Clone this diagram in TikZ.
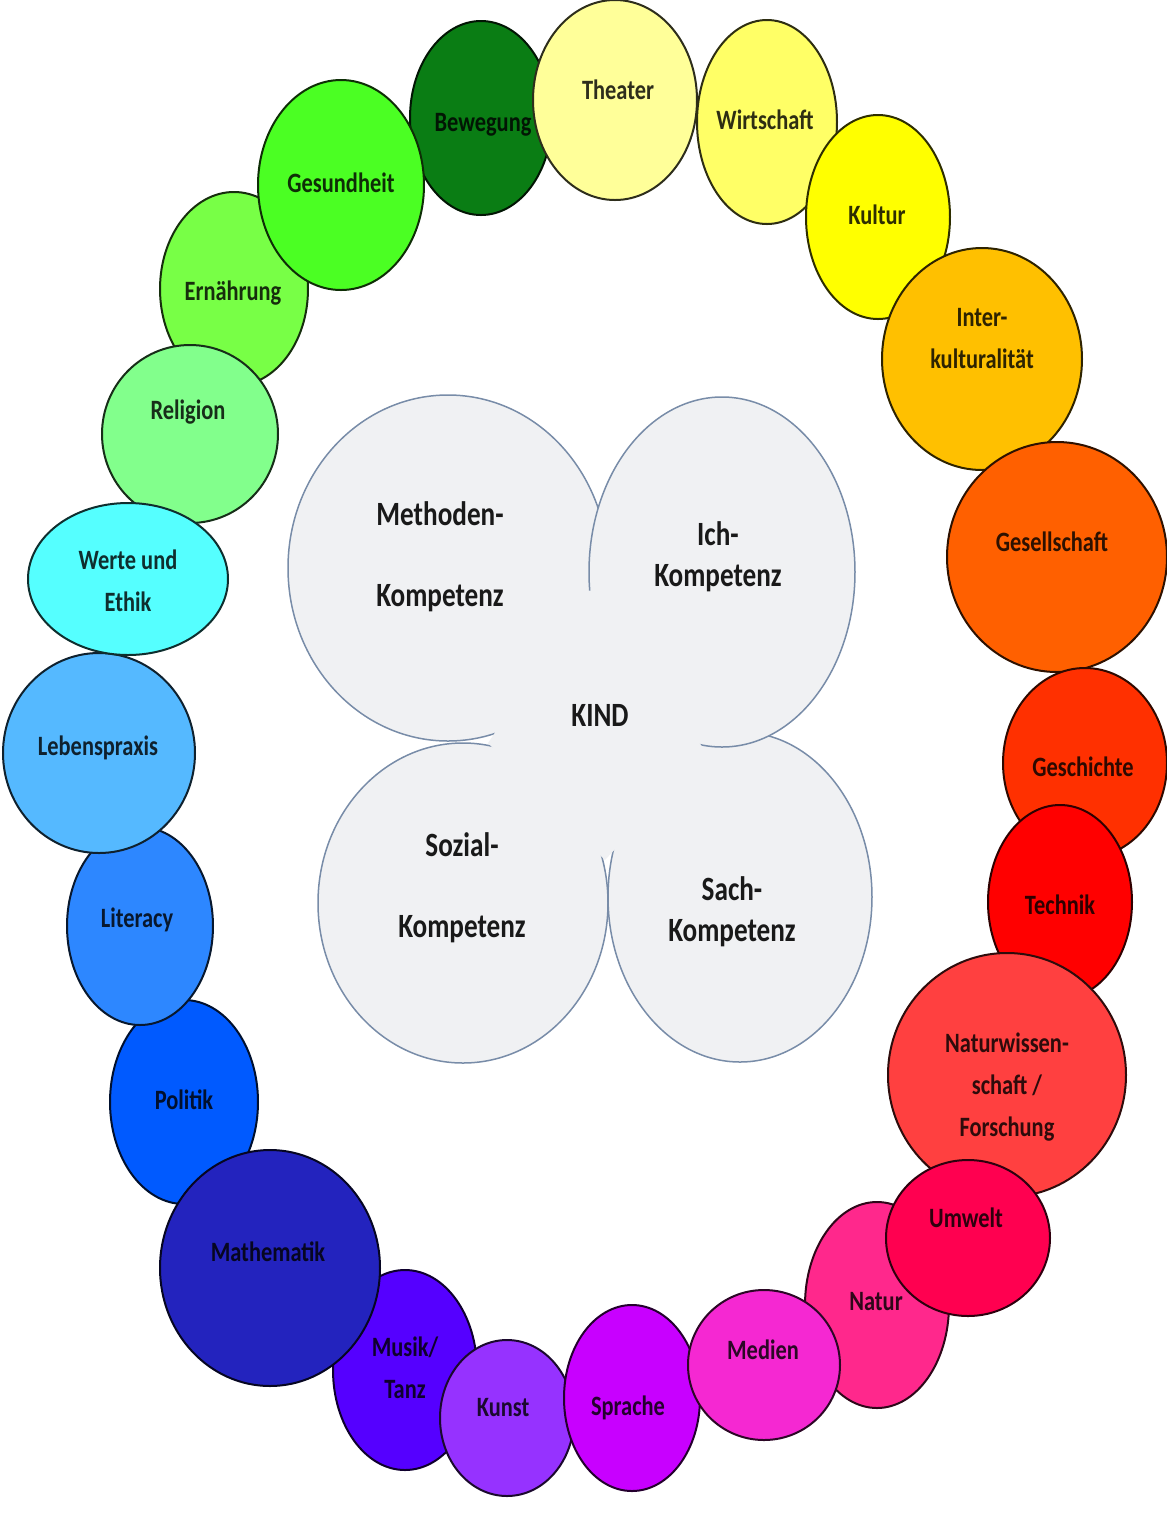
\documentclass[tikz,border=0pt]{standalone}
\usepackage{fontspec}
\setmainfont{Carlito}
\newfontfamily\fachfont{Carlito}[FakeStretch=0.8]
\usetikzlibrary{shapes.geometric}

\definecolor{cBewegung}{RGB}{10,125,20}
\definecolor{cTheater}{RGB}{255,255,153}
\definecolor{cWirtschaft}{RGB}{255,255,102}
\definecolor{cKultur}{RGB}{255,255,0}
\definecolor{cInter}{RGB}{255,192,0}
\definecolor{cGesellschaft}{RGB}{255,96,0}
\definecolor{cGeschichte}{RGB}{255,48,0}
\definecolor{cTechnik}{RGB}{255,0,0}
\definecolor{cNaturwiss}{RGB}{255,64,64}
\definecolor{cUmwelt}{RGB}{255,0,80}
\definecolor{cNatur}{RGB}{255,40,140}
\definecolor{cMedien}{RGB}{245,40,210}
\definecolor{cSprache}{RGB}{200,0,255}
\definecolor{cKunst}{RGB}{150,50,255}
\definecolor{cMusik}{RGB}{85,0,255}
\definecolor{cMathematik}{RGB}{35,35,190}
\definecolor{cPolitik}{RGB}{0,90,255}
\definecolor{cLiteracy}{RGB}{45,135,255}
\definecolor{cLebenspraxis}{RGB}{85,185,255}
\definecolor{cWerte}{RGB}{85,255,255}
\definecolor{cReligion}{RGB}{130,255,140}
\definecolor{cErnaehrung}{RGB}{120,255,70}
\definecolor{cGesundheit}{RGB}{75,255,35}
\definecolor{kernGrau}{RGB}{240,241,243}
\definecolor{kernRand}{RGB}{120,140,168}
\definecolor{kernSchrift}{RGB}{25,25,25}

\tikzset{
	fach/.style={ellipse, draw=#1!18!black, fill=#1, line width=1pt, inner sep=0pt},
	fachtext/.style={text=#1!18!black, font=\fachfont\bfseries\fontsize{14}{21}\selectfont, align=center, inner sep=0pt},
	kern/.style={ellipse, draw=kernRand, fill=kernGrau, line width=.75pt, inner sep=0pt},
	kerntext/.style={text=kernSchrift, font=\fachfont\bfseries\fontsize{17}{20.5}\selectfont, align=center, inner sep=0pt}
}

\begin{document}
\begin{tikzpicture}[x=.5pt,y=-.5pt]
	\useasboundingbox (0,0) rectangle (1167,1517);

	% ring of subjects, drawn so that the upper ones come last
	\foreach \nm/\cx/\cy/\rx/\ry/\col/\tx/\ty/\txt in {
		bewegung/481/118/71/97/cBewegung/483/125/{Bewegung},
		theater/615/100/82/100/cTheater/618/90/{Theater},
		wirtschaft/767/122/70/102/cWirtschaft/765/120/{Wirtschaft},
		kultur/878/217/72/102/cKultur/877/215/{Kultur},
		inter/982/359/100/111/cInter/982/339/{Inter-\\kulturalität},
		gesellschaft/1057/557/110/115/cGesellschaft/1052/542/{Gesellschaft},
		geschichte/1085/763/82/95/cGeschichte/1083/767/{Geschichte},
		technik/1060/902/72/97/cTechnik/1060/905/{Technik},
		naturwiss/1007/1075/119/122/cNaturwiss/1007/1087/{Naturwissen-\\schaft /\\Forschung},
		natur/877/1305/72/103/cNatur/876/1302/{Natur},
		umwelt/968/1238/82/78/cUmwelt/966/1218/{Umwelt},
		musik/405/1370/72/100/cMusik/405/1368/{Musik/\\Tanz},
		kunst/507/1418/67/78/cKunst/503/1408/{Kunst},
		sprache/632/1398/68/93/cSprache/628/1408/{Sprache},
		medien/764/1365/76/75/cMedien/763/1350/{Medien},
		politik/184/1102/74/102/cPolitik/184/1100/{Politik},
		mathematik/270/1268/110/118/cMathematik/268/1252/{Mathematik},
		literacy/140/926/73/99/cLiteracy/137/920/{Literacy},
		lebenspraxis/99/753/96/100/cLebenspraxis/98/748/{Lebenspraxis},
		ernaehrung/234/289/74/97/cErnaehrung/233/293/{Ernährung},
		religion/190/434/88/89/cReligion/188/412/{Religion},
		werte/128/579/100/76/cWerte/128/581/{Werte und\\Ethik},
		gesundheit/341/185/83/105/cGesundheit/341/183/{Gesundheit}}{
		\node[fach=\col, minimum width=\rx pt, minimum height=\ry pt] (\nm) at (\cx,\cy) {};
		\node[fachtext=\col] (\nm-text) at (\tx,\ty) {\txt};
	}

	% the four competences round the child
	\node[kern, minimum width=145pt, minimum height=160pt] (sozial) at (463,903) {};
	\node[kern, minimum width=132pt, minimum height=165pt] (sach) at (740,897) {};
	\node[kern, minimum width=160pt, minimum height=173pt] (methoden) at (448,568) {};
	\node[kern, minimum width=133pt, minimum height=175pt] (ich) at (722,572) {};
	\fill[kernGrau] (488,743) -- (590,590) -- (706,752) -- (605,860) -- cycle;

	\node[kerntext] (methoden-text) at (440,557) {Methoden-\\[20pt]Kompetenz};
	\node[kerntext] (ich-text) at (718,557) {Ich-\\Kompetenz};
	\node[kerntext] (sozial-text) at (462,888) {Sozial-\\[20pt]Kompetenz};
	\node[kerntext] (sach-text) at (732,912) {Sach-\\Kompetenz};
	\node[kerntext] (kind) at (600,715) {KIND};
\end{tikzpicture}
\end{document}
